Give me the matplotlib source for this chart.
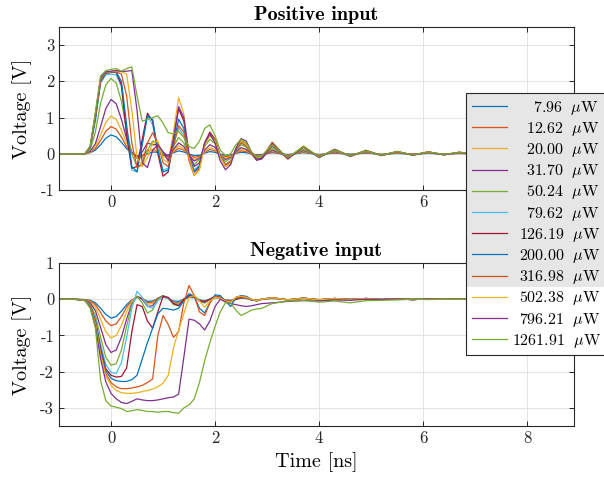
import numpy as np
import matplotlib.pyplot as plt
from matplotlib.patches import Rectangle

plt.rcParams['font.family'] = 'cmr10'
plt.rcParams['mathtext.fontset'] = 'cm'
plt.rcParams['axes.unicode_minus'] = False
plt.rcParams['axes.formatter.use_mathtext'] = False

# optical power of each trace [uW]
powers = [7.96, 12.62, 20.00, 31.70, 50.24, 79.62, 126.19, 200.00, 316.98, 502.38, 796.21, 1261.91]

# sample times [ns]
t = [-1.0, -0.7, -0.5, -0.4, -0.3, -0.2, -0.1, 0.0, 0.1, 0.2,
     0.3, 0.4, 0.5, 0.6, 0.7, 0.8, 0.9, 1.0, 1.1, 1.2,
     1.3, 1.4, 1.5, 1.6, 1.7, 1.8, 1.9, 2.0, 2.1, 2.2,
     2.3, 2.4, 2.5, 2.6, 2.7, 2.8, 2.9, 3.1, 3.4, 3.7,
     4.0, 4.3, 4.6, 4.9, 5.2, 5.5, 5.8, 6.1, 6.4, 6.7,
     7.0, 7.3, 7.6, 7.9, 8.2, 8.5, 8.9]

# positive input [V]
pos_7_96 = [0, 0, 0.0, 0.03, 0.1, 0.25, 0.43, 0.52, 0.47, 0.32,
            0.14, 0.02, -0.05, -0.06, 0.0, 0.05, 0.04, -0.02, -0.03, 0.03,
            0.08, 0.05, -0.01, -0.05, -0.04, 0.02, 0.06, 0.04, -0.01, -0.04,
            -0.03, 0.01, 0.04, 0.03, 0.0, -0.03, -0.02, 0.03, -0.02, 0.03,
            -0.02, 0.02, -0.01, 0.02, -0.01, 0.01, -0.01, 0.01, 0.0, 0.01,
            0.0, 0.01, 0.0, 0.0, 0.01, 0.0, 0.0]
pos_12_62 = [0, 0, 0.0, 0.04, 0.15, 0.37, 0.62, 0.75, 0.68, 0.46,
             0.2, 0.03, -0.08, -0.05, 0.08, 0.12, 0.06, -0.05, -0.06, 0.05,
             0.15, 0.1, -0.02, -0.1, -0.07, 0.04, 0.12, 0.08, -0.02, -0.08,
             -0.06, 0.02, 0.08, 0.06, 0.0, -0.05, -0.04, 0.05, -0.04, 0.05,
             -0.03, 0.03, -0.02, 0.03, -0.02, 0.02, -0.01, 0.02, -0.01, 0.01,
             -0.01, 0.01, 0.0, 0.01, 0.0, 0.0, 0.0]
pos_20_00 = [0, 0, 0.0, 0.05, 0.2, 0.52, 0.87, 1.04, 0.95, 0.65,
             0.3, 0.05, -0.12, -0.1, 0.05, 0.12, 0.08, -0.08, -0.1, 0.08,
             0.22, 0.14, -0.04, -0.15, -0.1, 0.06, 0.17, 0.12, -0.03, -0.12,
             -0.08, 0.03, 0.12, 0.09, 0.0, -0.08, -0.06, 0.08, -0.05, 0.07,
             -0.04, 0.05, -0.03, 0.04, -0.02, 0.03, -0.02, 0.02, -0.01, 0.02,
             -0.01, 0.01, -0.01, 0.01, 0.0, 0.01, 0.0]
pos_31_70 = [0, 0, 0.0, 0.07, 0.28, 0.75, 1.25, 1.5, 1.38, 0.95,
             0.42, 0.05, -0.12, 0.05, 0.3, 0.25, 0.25, 0.05, -0.08, 0.12,
             0.3, 0.2, -0.05, -0.2, -0.12, 0.1, 0.25, 0.18, -0.04, -0.16,
             -0.1, 0.05, 0.17, 0.12, 0.0, -0.1, -0.08, 0.1, -0.07, 0.09,
             -0.05, 0.06, -0.04, 0.05, -0.03, 0.04, -0.02, 0.03, -0.02, 0.02,
             -0.01, 0.02, -0.01, 0.01, 0.0, 0.01, 0.0]
pos_50_24 = [0, 0, 0.0, 0.12, 0.6, 1.4, 1.9, 2.08, 1.95, 1.45,
             0.65, 0.0, -0.35, -0.3, 0.1, 0.35, 0.3, 0.0, -0.15, 0.2,
             0.45, 0.3, -0.05, -0.3, -0.15, 0.2, 0.4, 0.28, -0.05, -0.22,
             -0.12, 0.08, 0.25, 0.18, 0.0, -0.12, -0.1, 0.15, -0.1, 0.12,
             -0.07, 0.08, -0.05, 0.06, -0.04, 0.05, -0.03, 0.04, -0.02, 0.03,
             -0.02, 0.02, -0.01, 0.02, -0.01, 0.01, 0.0]
pos_79_62 = [0, 0, 0.0, 0.15, 0.9, 1.95, 2.18, 2.2, 2.18, 1.85,
             0.6, -0.45, -0.5, 0.3, 1.05, 0.8, 0.1, -0.45, -0.4, 0.25,
             0.72, 0.5, -0.1, -0.45, -0.3, 0.25, 0.5, 0.35, -0.05, -0.3,
             -0.2, 0.1, 0.3, 0.22, 0.0, -0.15, -0.12, 0.2, -0.12, 0.18,
             -0.1, 0.1, -0.06, 0.07, -0.04, 0.05, -0.03, 0.04, -0.03, 0.03,
             -0.02, 0.03, -0.02, 0.02, -0.01, 0.02, 0.0]
pos_126_19 = [0, 0, 0.0, 0.18, 1.0, 2.0, 2.22, 2.25, 2.25, 1.9,
              0.5, -0.4, -0.35, 0.4, 1.12, 0.9, 0.0, -0.62, -0.5, 0.4,
              1.25, 0.9, -0.1, -0.5, -0.35, 0.3, 0.6, 0.4, -0.08, -0.35,
              -0.25, 0.12, 0.35, 0.25, 0.0, -0.18, -0.14, 0.25, -0.14, 0.2,
              -0.1, 0.12, -0.07, 0.09, -0.05, 0.06, -0.04, 0.05, -0.03, 0.04,
              -0.02, 0.03, -0.02, 0.02, -0.01, 0.02, 0.0]
pos_200_00 = [0, 0, 0.0, 0.18, 1.0, 2.02, 2.22, 2.25, 2.25, 2.0,
              0.8, -0.35, -0.5, 0.25, 1.05, 0.95, 0.1, -0.5, -0.45, 0.3,
              0.95, 0.7, -0.1, -0.5, -0.35, 0.28, 0.55, 0.38, -0.06, -0.32,
              -0.22, 0.1, 0.32, 0.23, 0.0, -0.16, -0.13, 0.22, -0.12, 0.18,
              -0.09, 0.11, -0.06, 0.08, -0.04, 0.06, -0.03, 0.05, -0.02, 0.04,
              -0.02, 0.03, -0.01, 0.02, -0.01, 0.01, 0.0]
pos_316_98 = [0, 0, 0.0, 0.2, 1.05, 2.05, 2.24, 2.26, 2.26, 2.2,
              1.6, 0.3, -0.38, -0.3, 0.3, 0.58, 0.3, -0.25, -0.35, 0.2,
              0.78, 0.6, -0.2, -0.6, -0.4, 0.25, 0.55, 0.38, -0.08, -0.3,
              -0.2, 0.12, 0.3, 0.22, 0.0, -0.15, -0.12, 0.22, -0.12, 0.18,
              -0.09, 0.1, -0.06, 0.07, -0.04, 0.05, -0.03, 0.04, -0.02, 0.03,
              -0.02, 0.03, -0.01, 0.02, -0.01, 0.01, 0.0]
pos_502_38 = [0, 0, 0.0, 0.2, 1.1, 2.08, 2.25, 2.27, 2.28, 2.27,
              2.2, 1.2, -0.1, -0.35, -0.1, 0.3, 0.35, -0.15, -0.25, 0.6,
              1.55, 1.1, -0.1, -0.6, -0.45, 0.25, 0.5, 0.35, -0.1, -0.35,
              -0.25, 0.15, 0.35, 0.25, 0.05, -0.12, -0.1, 0.33, -0.15, 0.22,
              -0.1, 0.13, -0.07, 0.1, -0.05, 0.07, -0.04, 0.06, -0.03, 0.05,
              -0.03, 0.04, -0.02, 0.03, -0.01, 0.02, 0.0]
pos_796_21 = [0, 0, 0.0, 0.2, 1.1, 2.1, 2.26, 2.28, 2.3, 2.27,
              2.28, 2.3, 1.2, -0.25, -0.38, 0.1, 0.25, 0.05, -0.2, 0.4,
              1.3, 1.0, 0.0, -0.35, -0.25, 0.3, 0.55, 0.3, -0.2, -0.44,
              -0.3, 0.15, 0.42, 0.35, 0.05, -0.15, -0.12, 0.3, -0.14, 0.2,
              -0.1, 0.12, -0.07, 0.09, -0.05, 0.06, -0.04, 0.05, -0.03, 0.04,
              -0.02, 0.03, -0.02, 0.02, -0.01, 0.02, 0.0]
pos_1261_91 = [0, 0, 0.0, 0.22, 1.15, 2.15, 2.3, 2.33, 2.35, 2.28,
               2.35, 2.4, 1.6, 0.9, 0.95, 1.0, 1.05, 0.85, 0.58, 0.55,
               0.62, 0.45, 0.2, 0.15, 0.35, 0.7, 0.8, 0.5, 0.1, -0.05,
               0.0, 0.25, 0.4, 0.3, 0.05, -0.1, -0.05, 0.25, -0.1, 0.2,
               -0.08, 0.1, -0.05, 0.08, -0.04, 0.06, -0.03, 0.05, -0.02, 0.04,
               -0.02, 0.03, -0.01, 0.02, -0.01, 0.01, 0.0]

# negative input [V]
neg_7_96 = [0, 0, -0.01, -0.03, -0.1, -0.25, -0.42, -0.52, -0.48, -0.33,
            -0.15, -0.02, 0.05, 0.02, -0.06, -0.05, 0.02, 0.06, 0.02, -0.05,
            -0.06, 0.0, 0.05, 0.04, -0.02, -0.04, 0.0, 0.04, 0.03, -0.02,
            -0.03, 0.0, 0.03, 0.02, -0.01, -0.02, 0.0, 0.02, -0.01, 0.02,
            -0.01, 0.01, 0.0, 0.01, -0.01, 0.01, 0.0, 0.01, 0.0, 0.0,
            0.0, 0.01, 0.0, 0.0, 0.0, 0.0, 0.0]
neg_12_62 = [0, 0, -0.01, -0.05, -0.15, -0.37, -0.6, -0.73, -0.68, -0.48,
             -0.22, -0.03, 0.07, 0.03, -0.1, -0.08, 0.03, 0.08, 0.03, -0.08,
             -0.1, 0.0, 0.08, 0.06, -0.03, -0.06, 0.0, 0.06, 0.04, -0.03,
             -0.04, 0.0, 0.04, 0.03, -0.01, -0.03, 0.0, 0.03, -0.02, 0.02,
             -0.01, 0.02, -0.01, 0.01, 0.0, 0.01, 0.0, 0.01, 0.0, 0.01,
             0.0, 0.0, 0.01, 0.0, 0.0, 0.0, 0.0]
neg_20_00 = [0, 0, -0.02, -0.07, -0.22, -0.55, -0.9, -1.07, -1.0, -0.72,
             -0.35, -0.05, 0.08, 0.02, -0.14, -0.12, 0.03, 0.1, 0.03, -0.1,
             -0.12, 0.0, 0.1, 0.08, -0.04, -0.08, 0.0, 0.07, 0.05, -0.03,
             -0.05, 0.0, 0.05, 0.04, -0.01, -0.03, 0.0, 0.03, -0.02, 0.03,
             -0.02, 0.02, -0.01, 0.02, -0.01, 0.01, 0.0, 0.01, 0.0, 0.01,
             0.0, 0.01, 0.0, 0.0, 0.01, 0.0, 0.0]
neg_31_70 = [0, 0, -0.02, -0.1, -0.32, -0.78, -1.25, -1.47, -1.4, -1.05,
             -0.55, -0.12, 0.08, 0.0, -0.2, -0.18, 0.02, 0.1, 0.03, -0.12,
             -0.15, 0.0, 0.1, 0.08, -0.05, -0.1, 0.0, 0.08, 0.05, -0.04,
             -0.06, 0.0, 0.05, 0.04, -0.02, -0.04, 0.0, 0.04, -0.02, 0.03,
             -0.02, 0.02, -0.01, 0.02, -0.01, 0.01, -0.01, 0.01, 0.0, 0.01,
             0.0, 0.01, 0.0, 0.01, 0.0, 0.0, 0.0]
neg_50_24 = [0, 0, -0.03, -0.14, -0.45, -1.05, -1.6, -1.82, -1.78, -1.4,
             -0.75, -0.15, 0.08, -0.1, -0.38, -0.3, 0.0, 0.1, 0.03, -0.15,
             -0.18, 0.0, 0.12, 0.08, -0.05, -0.1, 0.0, 0.08, 0.05, -0.04,
             -0.06, 0.0, 0.05, 0.04, -0.02, -0.04, 0.0, 0.04, -0.02, 0.03,
             -0.02, 0.02, -0.01, 0.02, -0.01, 0.01, -0.01, 0.01, 0.0, 0.01,
             0.0, 0.01, 0.0, 0.01, 0.0, 0.0, 0.0]
neg_79_62 = [0, 0, -0.03, -0.16, -0.55, -1.25, -1.8, -2.02, -2.05, -1.75,
             -1.05, -0.25, 0.22, 0.05, -0.2, -0.25, -0.05, 0.08, 0.03, -0.12,
             -0.15, 0.0, 0.12, 0.1, -0.03, -0.08, 0.0, 0.08, 0.05, -0.04,
             -0.06, 0.0, 0.05, 0.04, -0.02, -0.04, 0.0, 0.04, -0.02, 0.03,
             -0.02, 0.02, -0.01, 0.02, -0.01, 0.01, -0.01, 0.01, 0.0, 0.01,
             0.0, 0.01, 0.0, 0.01, 0.0, 0.0, 0.0]
neg_126_19 = [0, 0, -0.03, -0.17, -0.6, -1.35, -1.92, -2.1, -2.15, -2.13,
              -1.9, -0.9, -0.15, -0.2, -0.6, -0.8, -0.35, 0.08, 0.05, -0.12,
              -0.18, 0.0, 0.1, 0.08, -0.03, -0.08, 0.0, 0.08, 0.05, -0.04,
              -0.06, 0.0, 0.05, 0.04, -0.02, -0.04, 0.0, 0.04, -0.02, 0.03,
              -0.02, 0.02, -0.01, 0.02, -0.01, 0.01, -0.01, 0.01, 0.0, 0.01,
              0.0, 0.01, 0.0, 0.01, 0.0, 0.0, 0.0]
neg_200_00 = [0, 0, -0.03, -0.18, -0.62, -1.4, -1.98, -2.18, -2.25, -2.27,
              -2.27, -2.22, -2.1, -1.65, -1.2, -0.8, -0.4, -0.25, -0.27, -0.3,
              -0.25, -0.05, 0.15, 0.08, -0.25, -0.38, -0.1, 0.12, 0.1, -0.05,
              -0.2, 0.05, 0.1, 0.08, 0.0, -0.05, 0.0, 0.04, -0.02, 0.03,
              -0.02, 0.02, -0.01, 0.02, -0.01, 0.01, -0.01, 0.01, 0.0, 0.01,
              0.0, 0.01, 0.0, 0.01, 0.0, 0.0, 0.0]
neg_316_98 = [0, 0, -0.03, -0.19, -0.65, -1.48, -2.05, -2.3, -2.42, -2.47,
              -2.47, -2.45, -2.42, -2.38, -2.3, -2.2, -1.0, -0.45, -0.7, -1.05,
              -0.9, -0.1, 0.38, 0.1, -0.35, -0.45, -0.1, 0.08, 0.05, -0.05,
              -0.08, 0.05, 0.08, 0.05, 0.0, -0.04, 0.0, 0.04, -0.02, 0.03,
              -0.02, 0.02, -0.01, 0.02, -0.01, 0.01, -0.01, 0.01, 0.0, 0.01,
              0.0, 0.01, 0.0, 0.01, 0.0, 0.0, 0.0]
neg_502_38 = [0, 0, -0.03, -0.2, -0.68, -1.55, -2.12, -2.38, -2.52, -2.58,
              -2.6, -2.6, -2.58, -2.55, -2.52, -2.48, -2.42, -2.32, -2.1, -1.35,
              -0.85, -0.4, 0.05, 0.1, -0.05, -0.22, -0.05, 0.05, 0.03, -0.05,
              -0.08, 0.05, 0.08, 0.05, 0.0, -0.04, 0.0, 0.04, -0.02, 0.03,
              -0.02, 0.02, -0.01, 0.02, -0.01, 0.01, -0.01, 0.01, 0.0, 0.01,
              0.0, 0.01, 0.0, 0.01, 0.0, 0.0, 0.0]
neg_796_21 = [0, 0, -0.04, -0.22, -0.75, -1.65, -2.28, -2.6, -2.75, -2.85,
              -2.88, -2.82, -2.75, -2.78, -2.8, -2.8, -2.78, -2.75, -2.72, -2.7,
              -2.62, -1.6, -0.55, -0.58, -0.68, -0.85, -0.6, -0.2, 0.0, -0.08,
              -0.12, -0.15, -0.18, -0.2, -0.18, -0.15, -0.12, -0.1, -0.06, -0.04,
              -0.05, -0.02, -0.03, 0.0, -0.01, 0.01, -0.01, 0.01, 0.0, 0.01,
              0.0, 0.01, 0.0, 0.01, 0.0, 0.0, 0.0]
neg_1261_91 = [0, 0, -0.04, -0.25, -0.8, -2.25, -2.8, -2.95, -2.98, -3.02,
               -3.1, -3.08, -3.05, -3.07, -3.1, -3.1, -3.12, -3.1, -3.1, -3.13,
               -3.15, -3.0, -2.92, -2.75, -2.3, -1.7, -1.2, -0.75, -0.35, -0.1,
               -0.1, -0.3, -0.45, -0.38, -0.3, -0.27, -0.25, -0.12, -0.05, -0.03,
               -0.08, -0.05, -0.1, -0.04, -0.03, -0.02, 0.0, -0.01, 0.0, 0.0,
               0.0, 0.01, 0.0, 0.01, 0.0, 0.0, 0.0]

pos_traces = [pos_7_96, pos_12_62, pos_20_00, pos_31_70, pos_50_24, pos_79_62,
              pos_126_19, pos_200_00, pos_316_98, pos_502_38, pos_796_21, pos_1261_91]
neg_traces = [neg_7_96, neg_12_62, neg_20_00, neg_31_70, neg_50_24, neg_79_62,
              neg_126_19, neg_200_00, neg_316_98, neg_502_38, neg_796_21, neg_1261_91]

# matlab default color order
colors = ['#0072BD', '#D95319', '#EDB120', '#7E2F8E', '#77AC30', '#4DBEEE', '#A2142F']


def power_label(p):
    # pad with digit-wide spaces so the numbers line up on the right
    num = f'{p:.2f}'
    pad = 7 - len(num)
    lead = '$' + '\\enspace' * pad + '$' if pad > 0 else ''
    return lead + num + '$\\enspace\\,\\mu$W'


W, H = 604, 486
fig = plt.figure(figsize=(W / 100, H / 100), dpi=100)
ax1 = fig.add_axes([59 / W, 1 - 190 / H, 515 / W, 163 / H])
ax2 = fig.add_axes([59 / W, 1 - 426 / H, 515 / W, 163 / H])

for ax, traces in ((ax1, pos_traces), (ax2, neg_traces)):
    for i, v in enumerate(traces):
        ax.plot(t, v, color=colors[i % len(colors)], lw=0.9, label=power_label(powers[i]))
    ax.set_xlim(-1, 8.9)
    ax.set_xticks([0, 2, 4, 6, 8])
    ax.grid(True, color='#dedede', lw=0.6)
    ax.set_axisbelow(True)
    ax.tick_params(direction='in', top=True, right=True, length=3.5,
                   labelsize=12, colors='#262626', width=0.7)
    for s in ax.spines.values():
        s.set_color('#262626')
        s.set_linewidth(0.8)
    ax.set_ylabel('Voltage [V]', fontsize=14.5, labelpad=6)

ax1.set_ylim(-1, 3.5)
ax1.set_yticks([-1, 0, 1, 2, 3])
# the "8" of the upper panel sits under the legend anyway
ax1.set_xticklabels(['0', '2', '4', '6', ''])
ax1.set_title('Positive input', fontfamily='cmb10', fontsize=14.5, pad=5)
ax2.set_ylim(-3.5, 1)
ax2.set_yticks([-3, -2, -1, 0, 1])
ax2.set_title('Negative input', fontfamily='cmb10', fontsize=14.5, pad=5)
ax2.set_xlabel('Time [ns]', fontsize=14.5)

handles, labels = ax1.get_legend_handles_labels()
leg = fig.legend(handles, labels, loc='upper left',
                 bbox_to_anchor=(466 / W, 1 - 93 / H), bbox_transform=fig.transFigure,
                 borderaxespad=0, fancybox=False, edgecolor='#262626',
                 facecolor='none', framealpha=1,
                 fontsize=11.5, handlelength=2.2, handletextpad=0.3,
                 borderpad=0.35, labelspacing=0.2)
leg.get_frame().set_linewidth(0.8)

# legend background: grey upper part, white lower part
fig.canvas.draw()
renderer = fig.canvas.get_renderer()
bb = leg.get_window_extent(renderer).transformed(fig.transFigure.inverted())
split = 1 - 287 / H
fig.add_artist(Rectangle((bb.x0, bb.y0), bb.width, bb.height, transform=fig.transFigure,
                         facecolor='white', edgecolor='none', zorder=4))
fig.add_artist(Rectangle((bb.x0, split), bb.width, bb.y1 - split, transform=fig.transFigure,
                         facecolor='#e6e6e6', edgecolor='none', zorder=4.5))

fig.savefig('out.png', dpi=100)
